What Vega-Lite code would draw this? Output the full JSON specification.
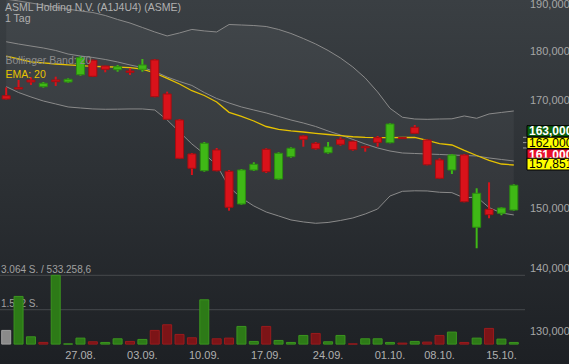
{
  "$schema": "https://vega.github.io/schema/vega-lite/v6.json",
  "width": 569,
  "height": 364,
  "autosize": {"type": "none"},
  "padding": 0,
  "background": "#2a2e32",
  "view": {"stroke": null, "fill": {"gradient": "linear", "x1": 0, "y1": 0, "x2": 0, "y2": 1, "stops": [{"offset": 0, "color": "#3a3f43"}, {"offset": 0.5, "color": "#2c3034"}, {"offset": 1, "color": "#1d2024"}]}},
  "title": {"text": "ASML Holding N.V. (A1J4U4) (ASME)", "subtitle": "1 Tag", "anchor": "start", "frame": "group", "orient": "top", "offset": -27, "dx": 5, "font": "Liberation Sans", "fontSize": 10.5, "fontWeight": "normal", "color": "#b0b0b0", "subtitleFont": "Liberation Sans", "subtitleFontSize": 10.5, "subtitleColor": "#b0b0b0", "subtitlePadding": 0},
  "data": {"values": [
    {"d":"2018-08-17","o":171.05,"h":172.7,"l":170.3,"c":170.4,"v":610,"vd":"none","bu":191.3,"bm":182.09,"bl":172.85,"ema":179.1},
    {"d":"2018-08-20","o":172.65,"h":174.19,"l":172.38,"c":172.38,"v":2124,"vd":"up","bu":190.9,"bm":181.6,"bl":171.68,"ema":178.48},
    {"d":"2018-08-21","o":174.19,"h":174.74,"l":173.19,"c":173.79,"v":325,"vd":"up","bu":190.45,"bm":181.18,"bl":170.8,"ema":177.87},
    {"d":"2018-08-22","o":172.85,"h":173.79,"l":172.65,"c":173.53,"v":76,"vd":"down","bu":190.0,"bm":180.77,"bl":170.0,"ema":177.66},
    {"d":"2018-08-23","o":174.19,"h":174.86,"l":172.99,"c":173.85,"v":3064,"vd":"up","bu":189.5,"bm":180.25,"bl":169.42,"ema":177.45},
    {"d":"2018-08-24","o":173.79,"h":174.53,"l":173.65,"c":174.33,"v":8,"vd":"up","bu":189.1,"bm":179.51,"bl":168.83,"ema":177.25},
    {"d":"2018-08-27","o":175.26,"h":179.1,"l":175.05,"c":178.75,"v":267,"vd":"up","bu":188.69,"bm":179.1,"bl":168.63,"ema":177.1},
    {"d":"2018-08-28","o":178.22,"h":178.34,"l":174.79,"c":174.94,"v":104,"vd":"down","bu":188.36,"bm":178.8,"bl":168.44,"ema":176.98},
    {"d":"2018-08-29","o":177.04,"h":177.1,"l":175.75,"c":176.36,"v":74,"vd":"up","bu":187.71,"bm":178.38,"bl":168.38,"ema":176.88},
    {"d":"2018-08-30","o":176.28,"h":177.25,"l":175.87,"c":176.9,"v":237,"vd":"up","bu":186.84,"bm":177.87,"bl":168.4,"ema":176.8},
    {"d":"2018-08-31","o":176.02,"h":176.57,"l":175.2,"c":175.75,"v":119,"vd":"down","bu":186.08,"bm":177.25,"bl":168.44,"ema":176.72},
    {"d":"2018-09-03","o":176.36,"h":178.48,"l":175.87,"c":177.25,"v":208,"vd":"up","bu":185.12,"bm":176.73,"bl":168.44,"ema":176.42},
    {"d":"2018-09-04","o":178.28,"h":178.48,"l":170.74,"c":170.86,"v":610,"vd":"down","bu":184.16,"bm":175.92,"bl":168.24,"ema":175.61},
    {"d":"2018-09-05","o":171.39,"h":171.85,"l":166.3,"c":166.44,"v":861,"vd":"down","bu":183.31,"bm":174.79,"bl":166.3,"ema":174.53},
    {"d":"2018-09-06","o":166.3,"h":166.49,"l":158.95,"c":159.08,"v":431,"vd":"down","bu":183.95,"bm":173.89,"bl":164.0,"ema":173.39},
    {"d":"2018-09-07","o":159.88,"h":160.06,"l":156.03,"c":157.25,"v":282,"vd":"down","bu":184.7,"bm":173.09,"bl":161.74,"ema":172.04},
    {"d":"2018-09-10","o":156.81,"h":162.11,"l":156.63,"c":161.87,"v":1974,"vd":"up","bu":184.38,"bm":171.68,"bl":159.88,"ema":171.09},
    {"d":"2018-09-11","o":160.62,"h":160.99,"l":156.7,"c":156.81,"v":237,"vd":"down","bu":184.16,"bm":170.5,"bl":157.85,"ema":169.8},
    {"d":"2018-09-12","o":156.7,"h":156.94,"l":149.71,"c":150.3,"v":267,"vd":"down","bu":185.76,"bm":169.61,"bl":153.88,"ema":167.78},
    {"d":"2018-09-13","o":150.88,"h":157.12,"l":150.75,"c":156.94,"v":787,"vd":"up","bu":185.65,"bm":168.83,"bl":151.93,"ema":167.0},
    {"d":"2018-09-14","o":156.94,"h":158.35,"l":156.76,"c":157.98,"v":119,"vd":"up","bu":185.54,"bm":168.24,"bl":150.53,"ema":166.11},
    {"d":"2018-09-17","o":160.75,"h":160.94,"l":156.39,"c":156.63,"v":787,"vd":"down","bu":185.33,"bm":167.66,"bl":149.48,"ema":165.05},
    {"d":"2018-09-18","o":155.31,"h":160.19,"l":155.18,"c":160.0,"v":163,"vd":"up","bu":184.7,"bm":166.98,"bl":148.8,"ema":164.52},
    {"d":"2018-09-19","o":159.38,"h":161.12,"l":159.19,"c":160.94,"v":74,"vd":"up","bu":183.84,"bm":166.3,"bl":148.11,"ema":164.23},
    {"d":"2018-09-20","o":163.25,"h":163.38,"l":161.23,"c":162.63,"v":386,"vd":"up","bu":182.77,"bm":165.72,"bl":147.77,"ema":164.0},
    {"d":"2018-09-21","o":161.87,"h":162.11,"l":160.68,"c":160.86,"v":475,"vd":"down","bu":181.61,"bm":165.05,"bl":147.54,"ema":163.76},
    {"d":"2018-09-24","o":160.11,"h":162.11,"l":159.93,"c":161.18,"v":104,"vd":"up","bu":180.25,"bm":164.19,"bl":147.68,"ema":163.53},
    {"d":"2018-09-25","o":162.63,"h":163.01,"l":161.42,"c":161.68,"v":386,"vd":"up","bu":178.69,"bm":163.44,"bl":148.02,"ema":163.3},
    {"d":"2018-09-26","o":162.24,"h":162.36,"l":160.49,"c":160.68,"v":8,"vd":"down","bu":176.83,"bm":162.59,"bl":148.45,"ema":163.1},
    {"d":"2018-09-27","o":161.23,"h":161.42,"l":160.3,"c":161.05,"v":237,"vd":"up","bu":174.59,"bm":161.74,"bl":149.14,"ema":162.98},
    {"d":"2018-09-28","o":162.94,"h":163.25,"l":161.23,"c":162.05,"v":237,"vd":"up","bu":171.79,"bm":160.99,"bl":150.0,"ema":162.93},
    {"d":"2018-10-01","o":161.98,"h":165.66,"l":161.87,"c":165.53,"v":74,"vd":"up","bu":168.57,"bm":160.43,"bl":152.28,"ema":162.93},
    {"d":"2018-10-02","o":162.94,"h":163.0,"l":162.7,"c":162.75,"v":45,"vd":"down","bu":166.83,"bm":160.06,"bl":153.11,"ema":162.96},
    {"d":"2018-10-04","o":164.9,"h":165.34,"l":163.63,"c":163.75,"v":119,"vd":"up","bu":166.49,"bm":159.97,"bl":153.2,"ema":163.0},
    {"d":"2018-10-05","o":162.49,"h":162.63,"l":157.8,"c":157.9,"v":89,"vd":"down","bu":166.43,"bm":159.88,"bl":153.17,"ema":162.4},
    {"d":"2018-10-08","o":158.77,"h":159.08,"l":155.31,"c":155.44,"v":386,"vd":"down","bu":166.49,"bm":159.79,"bl":152.94,"ema":161.81},
    {"d":"2018-10-09","o":156.94,"h":159.88,"l":156.21,"c":159.69,"v":535,"vd":"up","bu":166.53,"bm":159.69,"bl":152.87,"ema":161.55},
    {"d":"2018-10-10","o":159.69,"h":159.88,"l":151.17,"c":151.28,"v":74,"vd":"down","bu":167.08,"bm":159.6,"bl":151.93,"ema":160.53},
    {"d":"2018-10-11","o":146.86,"h":153.65,"l":143.33,"c":152.76,"v":267,"vd":"up","bu":166.63,"bm":159.51,"bl":152.11,"ema":159.6},
    {"d":"2018-10-12","o":149.95,"h":154.71,"l":148.4,"c":149.02,"v":698,"vd":"down","bu":167.47,"bm":159.14,"bl":150.26,"ema":158.68},
    {"d":"2018-10-15","o":149.26,"h":150.3,"l":148.92,"c":150.18,"v":223,"vd":"up","bu":167.76,"bm":158.86,"bl":149.31,"ema":158.03},
    {"d":"2018-10-16","o":149.83,"h":154.36,"l":149.71,"c":154.19,"v":74,"vd":"up","bu":168.05,"bm":158.59,"bl":148.97,"ema":157.85}
  ]},
  "encoding": {
    "x": {"field": "d", "type": "ordinal", "scale": {"type": "band", "range": [0, 520], "paddingInner": 0, "paddingOuter": 0},
      "axis": {"values": ["2018-08-27","2018-09-03","2018-09-10","2018-09-17","2018-09-24","2018-10-01","2018-10-08","2018-10-15"], "labelExpr": "slice(datum.value,8,10)+'.'+slice(datum.value,5,7)+'.'", "orient": "bottom", "offset": -15, "labelPadding": 0, "ticks": false, "tickSize": 0, "domain": false, "grid": false, "labelColor": "#b0b0b0", "labelFont": "Liberation Sans", "labelFontSize": 11, "labelAngle": 0, "labelBaseline": "top", "title": null}}
  },
  "layer": [
    {
      "layer": [
        {
          "data": {"values": [{"g": 1532, "lab": "1.532 S."}, {"g": 3064, "lab": "3.064 S. / 533.258,6"}]},
          "layer": [
            {
              "mark": {"type": "rule", "color": "#46494d", "strokeWidth": 1, "x2Offset": 5},
              "encoding": {
                "x": {"datum": "2018-08-17", "type": "ordinal", "bandPosition": 0},
                "x2": {"datum": "2018-10-16", "bandPosition": 1},
                "y": {"field": "g", "type": "quantitative", "scale": {"domain": [-886, 15325], "nice": false, "zero": false}, "axis": null}
              }
            },
            {
              "mark": {"type": "text", "align": "left", "baseline": "alphabetic", "dx": 1, "dy": -2.5, "font": "Liberation Sans", "fontSize": 10, "color": "#a0a0a0"},
              "encoding": {
                "x": {"datum": "2018-08-17", "type": "ordinal", "bandPosition": 0},
                "y": {"field": "g", "type": "quantitative", "scale": {"domain": [-886, 15325], "nice": false, "zero": false}, "axis": null},
                "text": {"field": "lab"}
              }
            }
          ]
        },
        {
          "mark": {"type": "bar", "width": 9, "strokeWidth": 1},
          "encoding": {
            "y": {"field": "v", "type": "quantitative", "scale": {"domain": [-886, 15325], "nice": false, "zero": false}, "axis": null},
            "y2": {"datum": 0},
            "fill": {"field": "vd", "type": "nominal", "scale": {"domain": ["up", "down", "none"], "range": ["#2d7a17", "#7c1417", "#8a8a8a"]}, "legend": null},
            "stroke": {"field": "vd", "type": "nominal", "scale": {"domain": ["up", "down", "none"], "range": ["#3b951f", "#9a1b1d", "#a0a0a0"]}, "legend": null}
          }
        }
      ]
    },
    {
      "layer": [
        {
          "mark": {"type": "area", "color": "#ffffff", "opacity": 0.045},
          "encoding": {
            "y": {"field": "bu", "type": "quantitative", "scale": {"type": "log", "domain": [125.34, 191.11], "nice": false}, "axis": null},
            "y2": {"field": "bl"}
          }
        },
        {
          "mark": {"type": "line", "strokeWidth": 1},
          "encoding": {
            "y": {"field": "bu", "type": "quantitative", "scale": {"type": "log", "domain": [125.34, 191.11], "nice": false}, "axis": null},
            "color": {"datum": "Bollinger Band: 20", "type": "nominal", "scale": {"domain": ["Bollinger Band: 20", "EMA: 20"], "range": ["#8a8a8a", "#e6c200"]},
              "legend": {"orient": "none", "legendX": -5, "legendY": 56, "title": null, "symbolSize": 0, "symbolOpacity": 0, "symbolStrokeWidth": 0, "labelOffset": 0, "labelFont": "Liberation Sans", "labelFontSize": 10.5, "labelColor": {"expr": "datum.label == 'EMA: 20' ? '#e8c300' : '#8c8c8c'"}, "rowPadding": 2.5, "padding": 0, "labelLimit": 200}}
          }
        },
        {
          "mark": {"type": "line", "strokeWidth": 1},
          "encoding": {
            "y": {"field": "bm", "type": "quantitative", "scale": {"type": "log", "domain": [125.34, 191.11], "nice": false}, "axis": null},
            "color": {"datum": "Bollinger Band: 20", "type": "nominal", "legend": null}
          }
        },
        {
          "mark": {"type": "line", "strokeWidth": 1},
          "encoding": {
            "y": {"field": "bl", "type": "quantitative", "scale": {"type": "log", "domain": [125.34, 191.11], "nice": false}, "axis": null},
            "color": {"datum": "Bollinger Band: 20", "type": "nominal", "legend": null}
          }
        },
        {
          "mark": {"type": "line", "strokeWidth": 1.3},
          "encoding": {
            "y": {"field": "ema", "type": "quantitative", "scale": {"type": "log", "domain": [125.34, 191.11], "nice": false}, "axis": null},
            "color": {"datum": "EMA: 20", "type": "nominal", "legend": null}
          }
        },
        {
          "mark": {"type": "rule", "strokeWidth": 2},
          "encoding": {
            "y": {"field": "l", "type": "quantitative", "scale": {"type": "log", "domain": [125.34, 191.11], "nice": false}, "axis": null},
            "y2": {"field": "h"},
            "stroke": {"condition": {"test": "datum.c >= datum.o", "value": "#3fb816"}, "value": "#d9121a"}
          }
        },
        {
          "mark": {"type": "bar", "width": 8, "strokeWidth": 1},
          "encoding": {
            "y": {"field": "o", "type": "quantitative", "scale": {"type": "log", "domain": [125.34, 191.11], "nice": false}, "axis": null},
            "y2": {"field": "c"},
            "fill": {"condition": {"test": "datum.c >= datum.o", "value": "#3fb816"}, "value": "#d9121a"},
            "stroke": {"condition": {"test": "datum.c >= datum.o", "value": "#2b8c10"}, "value": "#a30e12"}
          }
        },
        {
          "data": {"values": [
            {"p": 130, "lab": "130,000"},
            {"p": 140, "lab": "140,000"},
            {"p": 150, "lab": "150,000"},
            {"p": 170, "lab": "170,000"},
            {"p": 180, "lab": "180,000"},
            {"p": 190, "lab": "190,000"}
          ]},
          "mark": {"type": "text", "align": "left", "baseline": "middle", "dx": 10, "font": "Liberation Sans", "fontSize": 11, "color": "#a6a6a6"},
          "encoding": {
            "x": {"datum": "2018-10-16", "type": "ordinal", "bandPosition": 1},
            "y": {"field": "p", "type": "quantitative", "scale": {"type": "log", "domain": [125.34, 191.11], "nice": false}, "axis": null},
            "text": {"field": "lab"}
          }
        },
        {
          "data": {"values": [
            {"label": "163,000", "value": 163.0},
            {"label": "162,000", "value": 162.0},
            {"label": "161,000", "value": 161.0},
            {"label": "157,851", "value": 157.851}
          ]},
          "layer": [
            {"transform": [{"filter": "datum.value > 160"}],
             "mark": {"type": "rule", "color": "#9a9a9a", "strokeWidth": 1, "xOffset": 3, "x2Offset": 7},
             "encoding": {"y": {"field": "value", "type": "quantitative", "scale": {"type": "log", "domain": [125.34, 191.11], "nice": false}, "axis": null}}},
            {"transform": [{"filter": "datum.label == '163,000'"}],
             "mark": {"type": "rect", "fill": "#0b5e0b", "stroke": "#000000", "strokeWidth": 1, "xOffset": 7, "x2Offset": 52},
             "encoding": {"y": {"datum": 165.21, "axis": null}, "y2": {"datum": 163.08}}},
            {"transform": [{"filter": "datum.label == '163,000'"}],
             "mark": {"type": "text", "align": "left", "baseline": "middle", "dx": 9, "font": "Liberation Sans", "fontSize": 12, "fontWeight": "bold", "color": "#ffffff"},
             "encoding": {"y": {"datum": 164.15, "axis": null}, "text": {"field": "label"}}},
            {"transform": [{"filter": "datum.label == '162,000'"}],
             "mark": {"type": "rect", "fill": "#ffff00", "stroke": "#000000", "strokeWidth": 1, "xOffset": 7, "x2Offset": 52},
             "encoding": {"y": {"datum": 163.01, "axis": null}, "y2": {"datum": 160.9}}},
            {"transform": [{"filter": "datum.label == '162,000'"}],
             "mark": {"type": "text", "align": "left", "baseline": "middle", "dx": 9, "font": "Liberation Sans", "fontSize": 12, "color": "#000000"},
             "encoding": {"y": {"datum": 161.95, "axis": null}, "text": {"field": "label"}}},
            {"transform": [{"filter": "datum.label == '161,000'"}],
             "mark": {"type": "rect", "fill": "#e8102a", "stroke": "#000000", "strokeWidth": 1, "xOffset": 7, "x2Offset": 52},
             "encoding": {"y": {"datum": 160.8, "axis": null}, "y2": {"datum": 158.68}}},
            {"transform": [{"filter": "datum.label == '161,000'"}],
             "mark": {"type": "text", "align": "left", "baseline": "middle", "dx": 9, "font": "Liberation Sans", "fontSize": 12, "fontWeight": "bold", "color": "#ffffff"},
             "encoding": {"y": {"datum": 159.72, "axis": null}, "text": {"field": "label"}}},
            {"transform": [{"filter": "datum.label == '157,851'"}],
             "mark": {"type": "rect", "fill": "#ffff00", "stroke": "#000000", "strokeWidth": 1, "xOffset": 7, "x2Offset": 52},
             "encoding": {"y": {"datum": 159.08, "axis": null}, "y2": {"datum": 156.94}}},
            {"transform": [{"filter": "datum.label == '157,851'"}],
             "mark": {"type": "text", "align": "left", "baseline": "middle", "dx": 9, "font": "Liberation Sans", "fontSize": 12, "color": "#000000"},
             "encoding": {"y": {"datum": 158.0, "axis": null}, "text": {"field": "label"}}}
          ],
          "encoding": {
            "x": {"datum": "2018-10-16", "type": "ordinal", "bandPosition": 1},
            "x2": {"datum": "2018-10-16", "bandPosition": 1}
          }
        }
      ]
    }
  ],
  "resolve": {"scale": {"y": "independent"}}
}
